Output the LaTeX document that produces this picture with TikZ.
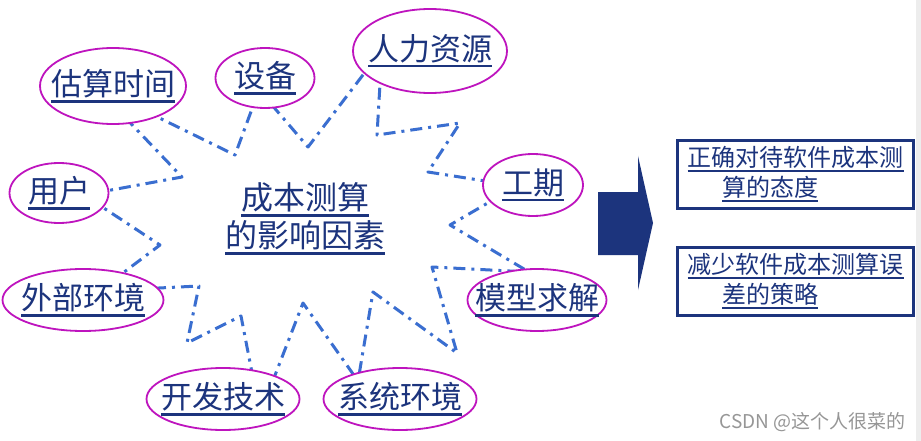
\documentclass[tikz,border=0pt]{standalone}
\usepackage{fontspec}
\setmainfont{Noto Sans CJK SC}
\usetikzlibrary{shapes.geometric}
\definecolor{navy}{RGB}{28,52,125}
\definecolor{burstblue}{RGB}{58,110,208}
\definecolor{ellmag}{RGB}{190,20,190}
\definecolor{wmgray}{RGB}{150,150,150}
\newsavebox\udlbox
\newcommand\udl[1]{\sbox\udlbox{#1}\rlap{\rule[-0.225em]{\wd\udlbox}{0.085em}}\usebox\udlbox}
\newcommand\fac[1]{\makebox[0pt]{\udl{#1}}}

\begin{document}
\begin{tikzpicture}[x=1pt,y=-1pt,
    factor/.style={ellipse,draw=ellmag,line width=1.8pt,fill=white,inner sep=0pt,
      text=navy,font=\fontsize{31}{36}\selectfont},
    burst/.style={burstblue,line width=3pt,line join=round,
      dash pattern=on 12pt off 6pt on 3pt off 6pt},
    resbox/.style={draw=navy,line width=3pt,minimum width=236pt,minimum height=68pt,
      inner sep=0pt,align=left,text=navy,font=\fontsize{24}{30}\selectfont}]
    \useasboundingbox (0,0) rectangle (921,441);
    \fill[white] (0,0) rectangle (921,441);
    \fill[black!7] (916,0) rectangle (921,441);
    \draw[burst] (96,87) -- (235,155) -- (259,90) -- (308,147) -- (382,50)
      -- (377,135) -- (460,123) -- (428,172) -- (517,186) -- (450,225)
      -- (529,272) -- (432,267) -- (457,353) -- (373,292) -- (358,381)
      -- (303,303) -- (260,414) -- (241,316) -- (187,343) -- (199,286)
      -- (99,291) -- (160,245) -- (84,195) -- (182,177) -- cycle;
    \node[factor,minimum width=146pt,minimum height=76pt] (gusuan) at (113,86) {\fac{估算时间}};
    \node[factor,minimum width=99pt,minimum height=60pt] (shebei) at (265,78) {\fac{设备}};
    \node[factor,minimum width=154pt,minimum height=84pt] (renli) at (430,51) {\fac{人力资源}};
    \node[factor,minimum width=100pt,minimum height=62pt] (gongqi) at (533,185) {\fac{工期}};
    \node[factor,minimum width=139pt,minimum height=62pt] (moxing) at (537,300) {\fac{模型求解}};
    \node[factor,minimum width=153pt,minimum height=62pt] (xitong) at (400,399) {\fac{系统环境}};
    \node[factor,minimum width=153pt,minimum height=62pt] (kaifa) at (223,399) {\fac{开发技术}};
    \node[factor,minimum width=161pt,minimum height=62pt] (waibu) at (83,300) {\fac{外部环境}};
    \node[factor,minimum width=99pt,minimum height=60pt] (yonghu) at (59,193) {\fac{用户}};
    \node[text=navy,align=center,font=\fontsize{32}{38}\selectfont] (yingxiang) at (305,219)
      {\udl{成本测算}\\\udl{的影响因素}};
    \fill[navy] (598,192) -- (638,192) -- (638,156) -- (653,223) -- (638,290)
      -- (638,255) -- (598,255) -- cycle;
    \node[resbox] (taidu) at (795.5,174.5)
      {\udl{正确对待软件成本测}\\\hspace*{1.45em}\udl{算的态度}};
    \node[resbox] (celue) at (795.5,281.5)
      {\udl{减少软件成本测算误}\\\hspace*{1.45em}\udl{差的策略}};
    \node[anchor=base east,inner sep=0pt,text=wmgray,font=\fontsize{19}{19}\selectfont]
      (csdn) at (906,428) {CSDN @这个人很菜的};
\end{tikzpicture}
\end{document}
